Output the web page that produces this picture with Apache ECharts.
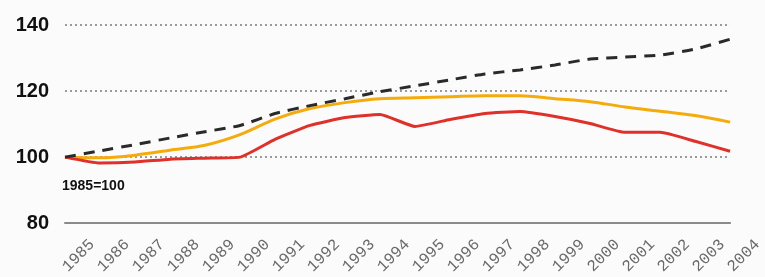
<!DOCTYPE html>
<html>
<head>
<meta charset="utf-8">
<script src="https://cdn.jsdelivr.net/npm/echarts@6/dist/echarts.min.js"></script>
<style>
  html, body { margin: 0; padding: 0; background: #fbfbfb; }
  #view { width: 765px; height: 277px; }
</style>
</head>
<body>
<div id="view"></div>
<script>
// years on the x axis
const years = ["1985", "1986", "1987", "1988", "1989", "1990", "1991", "1992", "1993", "1994",
  "1995", "1996", "1997", "1998", "1999", "2000", "2001", "2002", "2003", "2004"];

// dashed black line
const dashedValues = [100, 101.9, 103.8, 105.8, 107.7, 109.6, 113.2, 115.6, 117.7, 119.8,
  121.6, 123.4, 125.2, 126.4, 127.9, 129.7, 130.3, 130.9, 132.7, 135.7];
// orange line
const orangeValues = [100, 99.8, 100.6, 102.1, 103.6, 106.8, 111.5, 114.7, 116.5, 117.7,
  118, 118.3, 118.6, 118.6, 117.7, 116.8, 115.2, 113.9, 112.6, 110.6];
// red line
const redValues = [100, 98.2, 98.5, 99.4, 99.7, 100, 105.4, 109.6, 112, 112.9,
  109.3, 111.4, 113.2, 113.8, 112.3, 110.2, 107.5, 107.5, 104.8, 101.8];

const yTicks = [80, 100, 120, 140];
const baseNote = "1985=100";

let myChart = echarts.init(document.getElementById("view"), null, { renderer: "canvas" });

let option = {
  backgroundColor: "#fbfbfb",
  animation: false,
  title: {
    text: baseNote,
    left: 57,
    top: 174,
    textStyle: {
      fontFamily: "Liberation Sans",
      fontSize: 14,
      fontWeight: "bold",
      color: "#111",
    },
  },
  grid: {
    left: 65,
    right: 0,
    top: 25,
    bottom: 52,
    containLabel: false,
  },
  xAxis: {
    type: "category",
    boundaryGap: false,
    data: years,
    axisTick: { show: false },
    axisLine: { show: true, lineStyle: { color: "#8a8a8a", width: 2 } },
    axisLabel: {
      rotate: 45,
      align: "left",
      verticalAlign: "middle",
      margin: 46,
      interval: 0,
      fontFamily: "Liberation Mono",
      fontSize: 16,
      color: "#6a6a6a",
    },
    splitLine: { show: false },
  },
  yAxis: {
    type: "value",
    min: yTicks[0],
    max: yTicks[yTicks.length - 1],
    interval: 20,
    axisLine: { show: false },
    axisTick: { show: false },
    axisLabel: {
      margin: 16,
      fontFamily: "Liberation Sans",
      fontSize: 20,
      fontWeight: "bold",
      color: "#111",
    },
    splitLine: {
      show: true,
      lineStyle: { color: "#9a9a9a", width: 2, type: [2, 3] },
    },
  },
  series: [
    {
      name: "dashed",
      type: "line",
      data: dashedValues,
      symbol: "none",
      smooth: 0.2,
      z: 3,
      lineStyle: { color: "#2a2a2a", width: 3, type: [11, 8] },
    },
    {
      name: "orange",
      type: "line",
      data: orangeValues,
      symbol: "none",
      smooth: 0.3,
      z: 2,
      lineStyle: { color: "#f4ac0c", width: 3 },
    },
    {
      name: "red",
      type: "line",
      data: redValues,
      symbol: "none",
      smooth: 0.15,
      z: 2,
      lineStyle: { color: "#e0302a", width: 3 },
    },
  ],
};
myChart.setOption(option);
</script>
</body>
</html>
